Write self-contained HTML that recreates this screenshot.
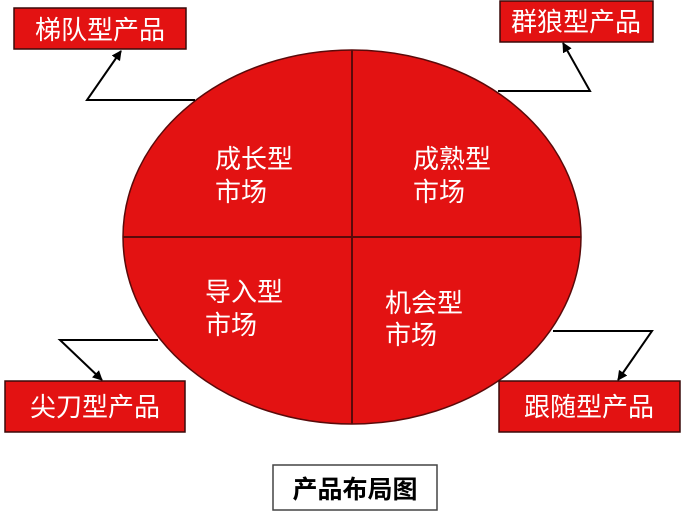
<!DOCTYPE html>
<html><head><meta charset="utf-8"><style>
body{margin:0;background:#fff;}
svg{display:block}
text{font-family:"Liberation Sans","Noto Sans CJK SC",sans-serif;}
</style></head><body>
<svg width="684" height="515" viewBox="0 0 684 515" xmlns="http://www.w3.org/2000/svg">
<defs><marker id="a" markerWidth="10" markerHeight="10" refX="9" refY="5" orient="auto" markerUnits="userSpaceOnUse"><path d="M0,0 L10,5 L0,10 z" fill="#000"/></marker></defs>
<ellipse cx="352" cy="237" rx="229" ry="187" fill="#e31212" stroke="#5a0a0a" stroke-width="1.5"/>
<line x1="123" y1="237" x2="581" y2="237" stroke="#5a0a0a" stroke-width="2"/>
<line x1="352" y1="50" x2="352" y2="424" stroke="#5a0a0a" stroke-width="2"/>
<g fill="#fff" font-size="26">
<text x="215" y="168">成长型</text><text x="215" y="201">市场</text>
<text x="413" y="168">成熟型</text><text x="413" y="201">市场</text>
<text x="205" y="301">导入型</text><text x="205" y="334">市场</text>
<text x="385" y="312">机会型</text><text x="385" y="344">市场</text>
</g>
<g stroke="#000" stroke-width="2" fill="none">
<polyline points="195,100 87,100 121,51" marker-end="url(#a)"/>
<polyline points="498,91 590,91 563,43" marker-end="url(#a)"/>
<polyline points="158,340 60,340 102,380" marker-end="url(#a)"/>
<polyline points="553,331 652,331 618,380" marker-end="url(#a)"/>
</g>
<g fill="#e31212" stroke="#3a0a0a" stroke-width="1.5">
<rect x="14" y="8" width="172" height="41"/>
<rect x="500" y="1" width="153" height="41"/>
<rect x="5" y="381" width="180" height="51"/>
<rect x="499" y="381" width="181" height="51"/>
</g>
<g fill="#fff" font-size="26" text-anchor="middle">
<text x="100" y="39">梯队型产品</text>
<text x="576" y="31">群狼型产品</text>
<text x="95" y="416">尖刀型产品</text>
<text x="589" y="416">跟随型产品</text>
</g>
<rect x="273" y="465" width="164" height="45" fill="#fff" stroke="#444" stroke-width="1.5"/>
<text x="355" y="498" font-size="25" font-weight="bold" text-anchor="middle" fill="#000">产品布局图</text>
</svg>
</body></html>
